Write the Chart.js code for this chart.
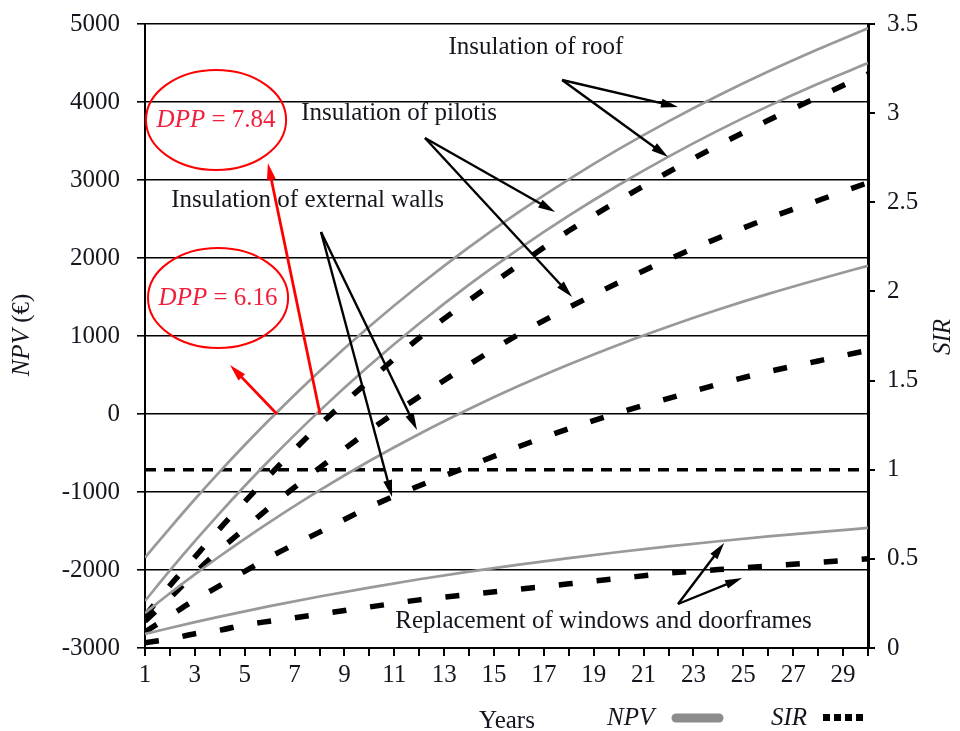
<!DOCTYPE html>
<html>
<head>
<meta charset="utf-8">
<script src="https://cdn.jsdelivr.net/npm/chart.js@4"></script>
<style>
  html, body { margin: 0; padding: 0; background: #fff; }
  canvas { display: block; }
</style>
</head>
<body>
<canvas id="chart" width="960" height="731"></canvas>
<script>
// values (NPV in euros, SIR ratio) per year
var years = [1, 2, 3, 4, 5, 6, 8, 10, 12, 14, 16, 18, 20, 22, 24, 26, 28, 30];

var npvRoof     = [-1840, -1462, -1093, -739, -398, -70, 549, 1121, 1650, 2139, 2591, 3009, 3395, 3752, 4083, 4390, 4675, 4945];
var npvPilotis  = [-2397, -2006, -1631, -1270, -923, -589, 40, 622, 1160, 1658, 2118, 2543, 2936, 3300, 3636, 3947, 4234, 4499];
var npvWalls    = [-2550, -2298, -2056, -1824, -1600, -1385, -979, -603, -256, 64, 361, 635, 889, 1123, 1340, 1540, 1725, 1900];
var npvWindows  = [-2820, -2743, -2669, -2598, -2530, -2464, -2340, -2225, -2119, -2021, -1931, -1847, -1769, -1698, -1631, -1570, -1514, -1461];

var sirRoof     = [0.18, 0.35, 0.51, 0.67, 0.82, 0.97, 1.25, 1.50, 1.74, 1.95, 2.15, 2.34, 2.51, 2.67, 2.82, 2.96, 3.09, 3.22];
var sirPilotis  = [0.15, 0.28, 0.42, 0.55, 0.67, 0.79, 1.01, 1.22, 1.41, 1.59, 1.76, 1.91, 2.05, 2.18, 2.30, 2.41, 2.51, 2.61];
var sirWalls    = [0.09, 0.18, 0.27, 0.35, 0.43, 0.51, 0.65, 0.79, 0.91, 1.02, 1.13, 1.23, 1.32, 1.40, 1.48, 1.55, 1.61, 1.67];
var sirWindows  = [0.03, 0.05, 0.08, 0.10, 0.13, 0.15, 0.19, 0.23, 0.27, 0.30, 0.33, 0.36, 0.39, 0.42, 0.44, 0.46, 0.48, 0.50];

var sirLimit = 1;
var npvTicks = [-3000, 5000, 1000];   // min, max, step
var sirTicks = [0, 3.5, 0.5];
var yearRange = [1, 30];

var SERIF = '"Liberation Serif", "Times New Roman", "DejaVu Serif", serif';
var INK = '#15151f';

Chart.defaults.font.family = SERIF;
Chart.defaults.font.size = 25;
Chart.defaults.color = INK;

function pts(values) {
  return years.map(function (x, i) { return { x: x, y: values[i] }; });
}

function npvSet(values) {
  return {
    data: pts(values), yAxisID: 'y', borderColor: '#999999', borderWidth: 2.7,
    pointRadius: 0, cubicInterpolationMode: 'monotone', fill: false
  };
}

function sirSet(values) {
  return {
    data: pts(values), yAxisID: 'y2', borderColor: '#000', borderWidth: 5.5,
    borderDash: [14, 24], borderCapStyle: 'butt',
    pointRadius: 0, cubicInterpolationMode: 'monotone', fill: false
  };
}

// notes placed in data units (year, NPV)
var notes = [
  { text: 'Insulation of roof', x: 16.68, y: 4705 },
  { text: 'Insulation of pilotis', x: 11.19, y: 3859 },
  { text: 'Insulation of external walls', x: 7.52, y: 2744 },
  { text: 'Replacement of windows and doorframes', x: 19.39, y: -2654 }
];

var arrows = [
  { from: [17.73, 4282], to: [22.38, 3936], color: '#000' },
  { from: [17.73, 4282], to: [21.98, 3295], color: '#000' },
  { from: [12.23, 3538], to: [17.45, 2590], color: '#000' },
  { from: [12.23, 3538], to: [18.13, 1500], color: '#000' },
  { from: [8.06, 2333], to: [11.91, -205], color: '#000' },
  { from: [8.06, 2333], to: [10.91, -1064], color: '#000' },
  { from: [22.38, -2436], to: [24.23, -1654], color: '#000' },
  { from: [22.38, -2436], to: [24.95, -2103], color: '#000' },
  { from: [8.02, 0], to: [5.93, 3218], color: '#f00' },
  { from: [6.29, 0], to: [4.41, 628], color: '#f00' }
];

var bubbles = [
  { label: '7.84', x: 3.85, y: 3769, rx: 2.81, ry: 641 },
  { label: '6.16', x: 3.93, y: 1487, rx: 2.81, ry: 641 }
];

function drawArrow(ctx, x1, y1, x2, y2, color) {
  var ang = Math.atan2(y2 - y1, x2 - x1);
  var len = 17, half = 4.5;
  ctx.save();
  ctx.strokeStyle = color;
  ctx.fillStyle = color;
  ctx.lineWidth = color === '#000' ? 2.4 : 2.8;
  ctx.beginPath();
  ctx.moveTo(x1, y1);
  ctx.lineTo(x2 - Math.cos(ang) * (len - 2), y2 - Math.sin(ang) * (len - 2));
  ctx.stroke();
  ctx.beginPath();
  ctx.moveTo(x2, y2);
  ctx.lineTo(x2 - Math.cos(ang) * len + Math.sin(ang) * half, y2 - Math.sin(ang) * len - Math.cos(ang) * half);
  ctx.lineTo(x2 - Math.cos(ang) * len - Math.sin(ang) * half, y2 - Math.sin(ang) * len + Math.cos(ang) * half);
  ctx.closePath();
  ctx.fill();
  ctx.restore();
}

var decorations = {
  id: 'decorations',
  afterDatasetsDraw: function (chart) {
    var ctx = chart.ctx;
    var xs = chart.scales.x, ys = chart.scales.y;
    var px = function (v) { return xs.getPixelForValue(v); };
    var py = function (v) { return ys.getPixelForValue(v); };

    ctx.save();
    ctx.textAlign = 'center';
    ctx.textBaseline = 'middle';
    ctx.fillStyle = INK;
    ctx.font = '25px ' + SERIF;
    notes.forEach(function (n) { ctx.fillText(n.text, px(n.x), py(n.y)); });

    arrows.forEach(function (a) {
      drawArrow(ctx, px(a.from[0]), py(a.from[1]), px(a.to[0]), py(a.to[1]), a.color);
    });

    bubbles.forEach(function (b) {
      var cx = px(b.x), cy = py(b.y);
      var rx = px(b.x + b.rx) - cx, ry = cy - py(b.y + b.ry);
      ctx.strokeStyle = '#f00';
      ctx.lineWidth = 2;
      ctx.beginPath();
      ctx.ellipse(cx, cy, rx, ry, 0, 0, Math.PI * 2);
      ctx.stroke();

      ctx.fillStyle = '#f0203c';
      ctx.font = 'italic 25px ' + SERIF;
      var w1 = ctx.measureText('DPP').width;
      ctx.font = '25px ' + SERIF;
      var rest = ' = ' + b.label;
      var w2 = ctx.measureText(rest).width;
      var left = cx - (w1 + w2) / 2;
      ctx.textAlign = 'left';
      ctx.font = 'italic 25px ' + SERIF;
      ctx.fillText('DPP', left, cy);
      ctx.font = '25px ' + SERIF;
      ctx.fillText(rest, left + w1, cy);
      ctx.textAlign = 'center';
    });

    // axis titles
    ctx.fillStyle = INK;
    ctx.font = '25px ' + SERIF;
    ctx.fillText('Years', 507, 721);

    ctx.save();
    ctx.translate(22, 335);
    ctx.rotate(-Math.PI / 2);
    ctx.font = 'italic 25px ' + SERIF;
    var wn = ctx.measureText('NPV').width;
    ctx.font = '25px ' + SERIF;
    var wr = ctx.measureText(' (€)').width;
    ctx.textAlign = 'left';
    ctx.font = 'italic 25px ' + SERIF;
    ctx.fillText('NPV', -(wn + wr) / 2, 0);
    ctx.font = '25px ' + SERIF;
    ctx.fillText(' (€)', -(wn + wr) / 2 + wn, 0);
    ctx.restore();

    ctx.save();
    ctx.translate(943, 337);
    ctx.rotate(-Math.PI / 2);
    ctx.font = 'italic 25px ' + SERIF;
    ctx.fillText('SIR', 0, 0);
    ctx.restore();

    // legend
    ctx.font = 'italic 25px ' + SERIF;
    ctx.textAlign = 'left';
    ctx.fillText('NPV', 607, 718);
    ctx.fillText('SIR', 771, 718);
    ctx.strokeStyle = '#8c8c8c';
    ctx.lineWidth = 9;
    ctx.lineCap = 'round';
    ctx.beginPath();
    ctx.moveTo(676, 718);
    ctx.lineTo(719, 718);
    ctx.stroke();
    ctx.fillStyle = '#000';
    for (var i = 0; i < 4; i++) {
      ctx.fillRect(823 + i * 11, 714, 7, 7);
    }
    ctx.restore();
  }
};

var tickFont = { family: SERIF, size: 25 };

function noEdgePadding(s) {
  s.paddingTop = 0;
  s.paddingBottom = 0;
  s.paddingLeft = 0;
  s.paddingRight = 0;
}

new Chart(document.getElementById('chart'), {
  type: 'line',
  data: {
    datasets: [
      npvSet(npvRoof), npvSet(npvPilotis), npvSet(npvWalls), npvSet(npvWindows),
      sirSet(sirRoof), sirSet(sirPilotis), sirSet(sirWalls), sirSet(sirWindows),
      {
        data: [{ x: yearRange[0], y: sirLimit }, { x: yearRange[1], y: sirLimit }],
        yAxisID: 'y2', borderColor: '#000', borderWidth: 3.5, borderDash: [11, 8],
        pointRadius: 0, fill: false
      }
    ]
  },
  options: {
    responsive: false,
    animation: false,
    layout: { padding: { top: 24, left: 0, right: 0, bottom: 0 } },
    plugins: { legend: { display: false }, tooltip: { enabled: false } },
    scales: {
      x: {
        type: 'linear', min: yearRange[0], max: yearRange[1],
        ticks: {
          stepSize: 1, autoSkip: false, maxRotation: 0, padding: 4,
          font: tickFont, color: INK,
          callback: function (v) { return v % 2 === 1 ? String(v) : ''; }
        },
        grid: { drawOnChartArea: false, drawTicks: true, tickLength: 8, color: '#000', lineWidth: 2 },
        border: { display: true, color: '#000', width: 2 },
        afterFit: function (s) { noEdgePadding(s); s.height = 83; }
      },
      y: {
        position: 'left', min: npvTicks[0], max: npvTicks[1],
        ticks: {
          stepSize: npvTicks[2], font: tickFont, color: INK, padding: 17,
          callback: function (v) { return String(v); }
        },
        grid: { color: '#000', lineWidth: 1.6, tickLength: 8 },
        border: { display: true, color: '#000', width: 2 },
        afterFit: function (s) { noEdgePadding(s); s.width = 145; }
      },
      y2: {
        position: 'right', min: sirTicks[0], max: sirTicks[1],
        ticks: {
          stepSize: sirTicks[2], font: tickFont, color: INK, padding: 12,
          callback: function (v) { return String(v); }
        },
        grid: { drawOnChartArea: false, drawTicks: true, tickLength: 7, color: '#000', lineWidth: 2 },
        border: { display: true, color: '#000', width: 3, dash: [9, 9] },
        afterFit: function (s) { noEdgePadding(s); s.width = 92; }
      }
    }
  },
  plugins: [decorations]
});
</script>
</body>
</html>
